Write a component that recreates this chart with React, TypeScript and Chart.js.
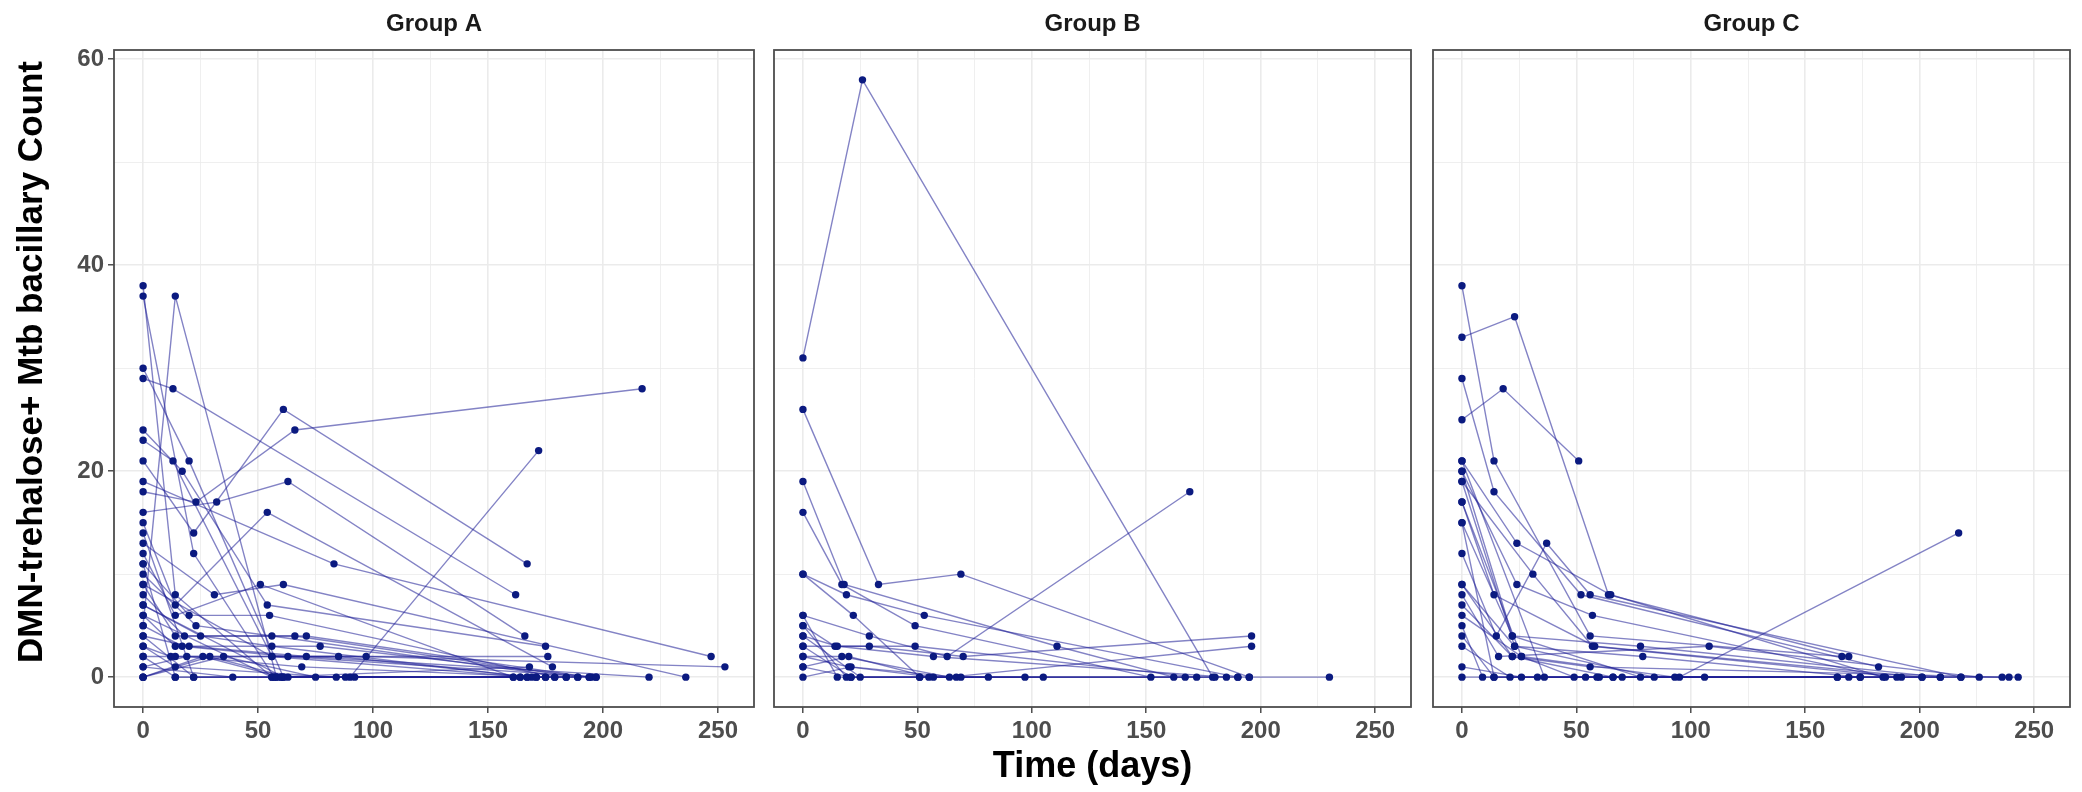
import React, { useEffect, useRef } from 'react';
import { Chart, registerables } from 'chart.js';

Chart.register(...registerables);

type Pt = [number, number];

// ---------------- data ----------------
const panelTitles = ['Group A', 'Group B', 'Group C'];
const xTickValues = [0, 25, 50, 75, 100, 125, 150, 175, 200, 225, 250];
const yTickValues = [0, 10, 20, 30, 40, 50, 60];
const xAxisTitle = 'Time (days)';
const yAxisTitle = 'DMN-trehalose+ Mtb bacillary Count';

// each inner list = one subject's trajectory: [day, count]
const groupA: Pt[][] = [
  [[0, 38], [14, 8], [56, 0], [168, 1]],
  [[0, 37], [22, 12], [57, 0], [175, 0]],
  [[0, 5], [14, 37], [58, 0], [164, 0]],
  [[0, 30], [20, 21], [61, 0], [171, 0]],
  [[0, 29], [13, 28], [162, 8]],
  [[0, 24], [17, 20], [54, 7], [175, 3]],
  [[0, 23], [13, 21], [56, 2], [176, 2]],
  [[0, 21], [22, 14], [61, 26], [167, 11]],
  [[0, 19], [83, 11], [247, 2]],
  [[0, 18], [23, 17], [66, 24], [217, 28]],
  [[0, 16], [32, 17], [63, 19], [166, 4]],
  [[0, 15], [14, 7], [54, 16], [178, 1]],
  [[0, 14], [22, 0], [90, 0], [172, 22]],
  [[0, 13], [31, 8], [61, 9], [236, 0]],
  [[0, 12], [14, 6], [51, 9], [161, 0]],
  [[0, 11], [20, 6], [55, 6], [179, 0]],
  [[0, 10], [23, 5], [56, 4], [184, 0]],
  [[0, 9], [14, 4], [66, 4], [189, 0]],
  [[0, 8], [18, 4], [71, 4], [194, 0]],
  [[0, 7], [25, 4], [56, 3], [167, 0]],
  [[0, 6], [14, 3], [77, 3], [195, 0]],
  [[0, 5], [17, 3], [63, 2], [197, 0]],
  [[0, 4], [20, 3], [71, 2], [220, 0]],
  [[0, 3], [12, 2], [85, 2], [169, 0]],
  [[0, 2], [14, 2], [97, 2], [253, 1]],
  [[0, 1], [19, 2], [69, 1], [175, 0]],
  [[0, 0], [26, 2], [60, 0], [179, 0]],
  [[0, 0], [29, 2], [63, 0], [184, 0]],
  [[0, 0], [35, 2], [75, 0]],
  [[0, 3], [14, 1], [84, 0], [189, 0]],
  [[0, 2], [14, 0], [88, 0], [194, 0]],
  [[0, 1], [39, 0], [92, 0], [197, 0]],
  [[0, 6], [56, 0], [164, 0]],
  [[0, 7], [61, 0], [171, 0]],
  [[0, 9], [56, 2], [167, 0]],
  [[0, 11], [14, 0], [58, 0]],
  [[0, 4], [22, 0], [60, 0], [161, 0]],
];

const groupB: Pt[][] = [
  [[0, 31], [26, 58], [179, 0]],
  [[0, 26], [33, 9], [69, 10], [195, 0]],
  [[0, 19], [18, 9], [111, 3], [162, 0]],
  [[0, 16], [17, 9], [49, 5], [152, 0]],
  [[0, 10], [19, 8], [53, 6], [190, 0]],
  [[0, 10], [22, 6], [51, 0], [167, 0]],
  [[0, 6], [29, 4], [63, 2], [169, 18]],
  [[0, 5], [14, 3], [49, 3], [172, 0]],
  [[0, 4], [15, 3], [57, 2], [185, 0]],
  [[0, 3], [29, 3], [70, 2], [196, 4]],
  [[0, 2], [17, 2], [64, 0], [196, 3]],
  [[0, 1], [20, 2], [55, 0], [180, 0]],
  [[0, 2], [20, 1], [57, 0], [195, 0], [230, 0]],
  [[0, 0], [21, 1], [67, 0], [190, 0]],
  [[0, 6], [15, 0], [69, 0]],
  [[0, 5], [19, 0], [81, 0]],
  [[0, 3], [21, 0], [97, 0]],
  [[0, 4], [25, 0], [105, 0]],
  [[0, 1], [21, 0], [51, 0]],
];

const groupC: Pt[][] = [
  [[0, 38], [14, 21], [56, 4], [166, 2]],
  [[0, 33], [23, 35], [64, 8], [169, 2]],
  [[0, 25], [18, 28], [51, 21]],
  [[0, 29], [14, 18], [52, 8], [182, 1]],
  [[0, 21], [24, 13], [65, 8], [184, 0]],
  [[0, 20], [24, 9], [57, 6], [185, 0]],
  [[0, 19], [31, 10], [57, 3], [192, 0]],
  [[0, 17], [14, 8], [58, 3], [201, 0]],
  [[0, 15], [22, 4], [78, 3], [209, 0]],
  [[0, 12], [15, 4], [37, 13], [56, 8], [218, 0]],
  [[0, 9], [23, 3], [79, 2], [174, 0]],
  [[0, 8], [16, 2], [108, 3], [226, 0]],
  [[0, 7], [22, 2], [56, 1], [236, 0]],
  [[0, 6], [26, 2], [49, 0], [164, 0]],
  [[0, 5], [9, 0], [54, 0], [169, 0]],
  [[0, 4], [14, 0], [59, 0], [239, 0]],
  [[0, 3], [21, 0], [95, 0], [217, 14]],
  [[0, 1], [26, 0], [60, 0], [243, 0]],
  [[0, 0], [33, 0], [66, 0], [174, 0]],
  [[0, 21], [36, 0], [70, 0]],
  [[0, 20], [22, 4], [78, 0], [190, 0]],
  [[0, 19], [23, 3], [84, 0], [201, 0]],
  [[0, 17], [26, 2], [93, 0], [209, 0]],
  [[0, 15], [14, 0], [106, 0], [218, 0]],
  [[0, 9], [22, 2], [66, 0], [164, 0]],
];

const groups = [groupA, groupB, groupC];

// ---------------- style ----------------
const FONT = '"Liberation Sans", Arial, Helvetica, sans-serif';
const LINE_COLOR = 'rgba(30,30,150,0.55)';
const POINT_COLOR = '#0B1A80';
const GRID = '#EBEBEB';
const X_MIN = -12.65;
const X_MAX = 265.65;
const Y_MIN = -2.9;
const Y_MAX = 60.9;
const H = 792;

const panels = [
  { left: 0, width: 758, padL: 0, padR: 2, showY: true, showXTitle: false },
  { left: 770, width: 645, padL: 2, padR: 2, showY: false, showXTitle: true },
  { left: 1429, width: 645, padL: 2, padR: 2, showY: false, showXTitle: false },
];

const borderPlugin = {
  id: 'panelBorder',
  afterDatasetsDraw(chart: any) {
    const { ctx, chartArea: a } = chart;
    ctx.save();
    ctx.strokeStyle = '#4D4D4D';
    ctx.lineWidth = 1.8;
    ctx.strokeRect(a.left, a.top, a.right - a.left, a.bottom - a.top);
    ctx.restore();
  },
};

// y-axis title, centred over panel + strip as ggplot does
const yTitlePlugin = {
  id: 'yTitle',
  afterDraw(chart: any) {
    const { ctx, chartArea: a } = chart;
    ctx.save();
    ctx.translate(32, (a.bottom + 17) / 2);
    ctx.rotate(-Math.PI / 2);
    ctx.font = `bold 35px ${FONT}`;
    ctx.fillStyle = '#000000';
    ctx.textAlign = 'center';
    ctx.textBaseline = 'middle';
    ctx.fillText(yAxisTitle, 0, 0);
    ctx.restore();
  },
};

function buildConfig(subjects: Pt[][], title: string, p: typeof panels[number]): any {
  const allPts = subjects.flat().map(([x, y]) => ({ x, y }));
  const datasets: any[] = [
    {
      data: allPts,
      showLine: false,
      pointRadius: 3.7,
      pointBackgroundColor: POINT_COLOR,
      pointBorderWidth: 0,
      order: 0,
    },
    ...subjects.map((s) => ({
      data: s.map(([x, y]) => ({ x, y })),
      borderColor: LINE_COLOR,
      borderWidth: 1.4,
      pointRadius: 0,
      tension: 0,
      fill: false,
      order: 1,
    })),
  ];
  const isMajorX = (c: any) => c.tick && c.tick.value % 50 === 0;
  const isMajorY = (c: any) => c.tick && c.tick.value % 20 === 0;
  return {
    type: 'line',
    data: { datasets },
    options: {
      animation: false,
      responsive: false,
      maintainAspectRatio: false,
      events: [],
      layout: { padding: { left: p.padL, right: p.padR, top: 0, bottom: 0 } },
      plugins: {
        legend: { display: false },
        tooltip: { enabled: false },
        title: {
          display: true,
          text: title,
          fullSize: false,
          color: '#1A1A1A',
          font: { family: FONT, size: 24, weight: 'bold', lineHeight: 1.2 },
          padding: { top: 10, bottom: 11.2 },
        },
      },
      scales: {
        x: {
          type: 'linear',
          min: X_MIN,
          max: X_MAX,
          afterBuildTicks: (s: any) => {
            s.ticks = xTickValues.map((v) => ({ value: v }));
          },
          afterFit: (s: any) => {
            s.height = 85;
          },
          ticks: {
            autoSkip: false,
            maxRotation: 0,
            minRotation: 0,
            padding: 4,
            color: '#4D4D4D',
            font: { family: FONT, size: 24, weight: 'bold' },
            callback: (v: any) => (Number(v) % 50 === 0 ? String(v) : ''),
          },
          grid: {
            color: GRID,
            lineWidth: (c: any) => (isMajorX(c) ? 1.6 : 0.8),
            tickLength: 6,
            tickWidth: 1.3,
            tickColor: (c: any) => (isMajorX(c) ? '#333333' : 'rgba(0,0,0,0)'),
          },
          border: { display: false },
          title: {
            display: p.showXTitle,
            text: xAxisTitle,
            color: '#000000',
            font: { family: FONT, size: 36, weight: 'bold', lineHeight: 1.2 },
            padding: { top: 0, bottom: 3 },
          },
        },
        y: {
          type: 'linear',
          min: Y_MIN,
          max: Y_MAX,
          afterBuildTicks: (s: any) => {
            s.ticks = yTickValues.map((v) => ({ value: v }));
          },
          afterFit: (s: any) => {
            s.width = p.showY ? 114 - p.padL : 0;
          },
          ticks: {
            display: p.showY,
            autoSkip: false,
            padding: 4,
            color: '#4D4D4D',
            font: { family: FONT, size: 24, weight: 'bold' },
            callback: (v: any) => (Number(v) % 20 === 0 ? String(v) : ''),
          },
          grid: {
            color: GRID,
            lineWidth: (c: any) => (isMajorY(c) ? 1.6 : 0.8),
            drawTicks: p.showY,
            tickLength: 6,
            tickWidth: 1.3,
            tickColor: (c: any) => (isMajorY(c) ? '#333333' : 'rgba(0,0,0,0)'),
          },
          border: { display: false },
        },
      },
    },
    plugins: p.showY ? [borderPlugin, yTitlePlugin] : [borderPlugin],
  };
}

function Panel({ index }: { index: number }) {
  const ref = useRef<HTMLCanvasElement | null>(null);
  const p = panels[index];
  useEffect(() => {
    if (!ref.current) return;
    const chart = new Chart(ref.current, buildConfig(groups[index], panelTitles[index], p));
    return () => chart.destroy();
  }, [index]);
  return (
    <canvas
      ref={ref}
      width={p.width}
      height={H}
      style={{ position: 'absolute', left: p.left, top: 0, width: p.width, height: H }}
    />
  );
}

export default function App() {
  return (
    <div
      style={{
        position: 'absolute',
        left: 0,
        top: 0,
        width: 2082,
        height: H,
        background: '#FFFFFF',
        overflow: 'hidden',
      }}
    >
      <Panel index={0} />
      <Panel index={1} />
      <Panel index={2} />
    </div>
  );
}
